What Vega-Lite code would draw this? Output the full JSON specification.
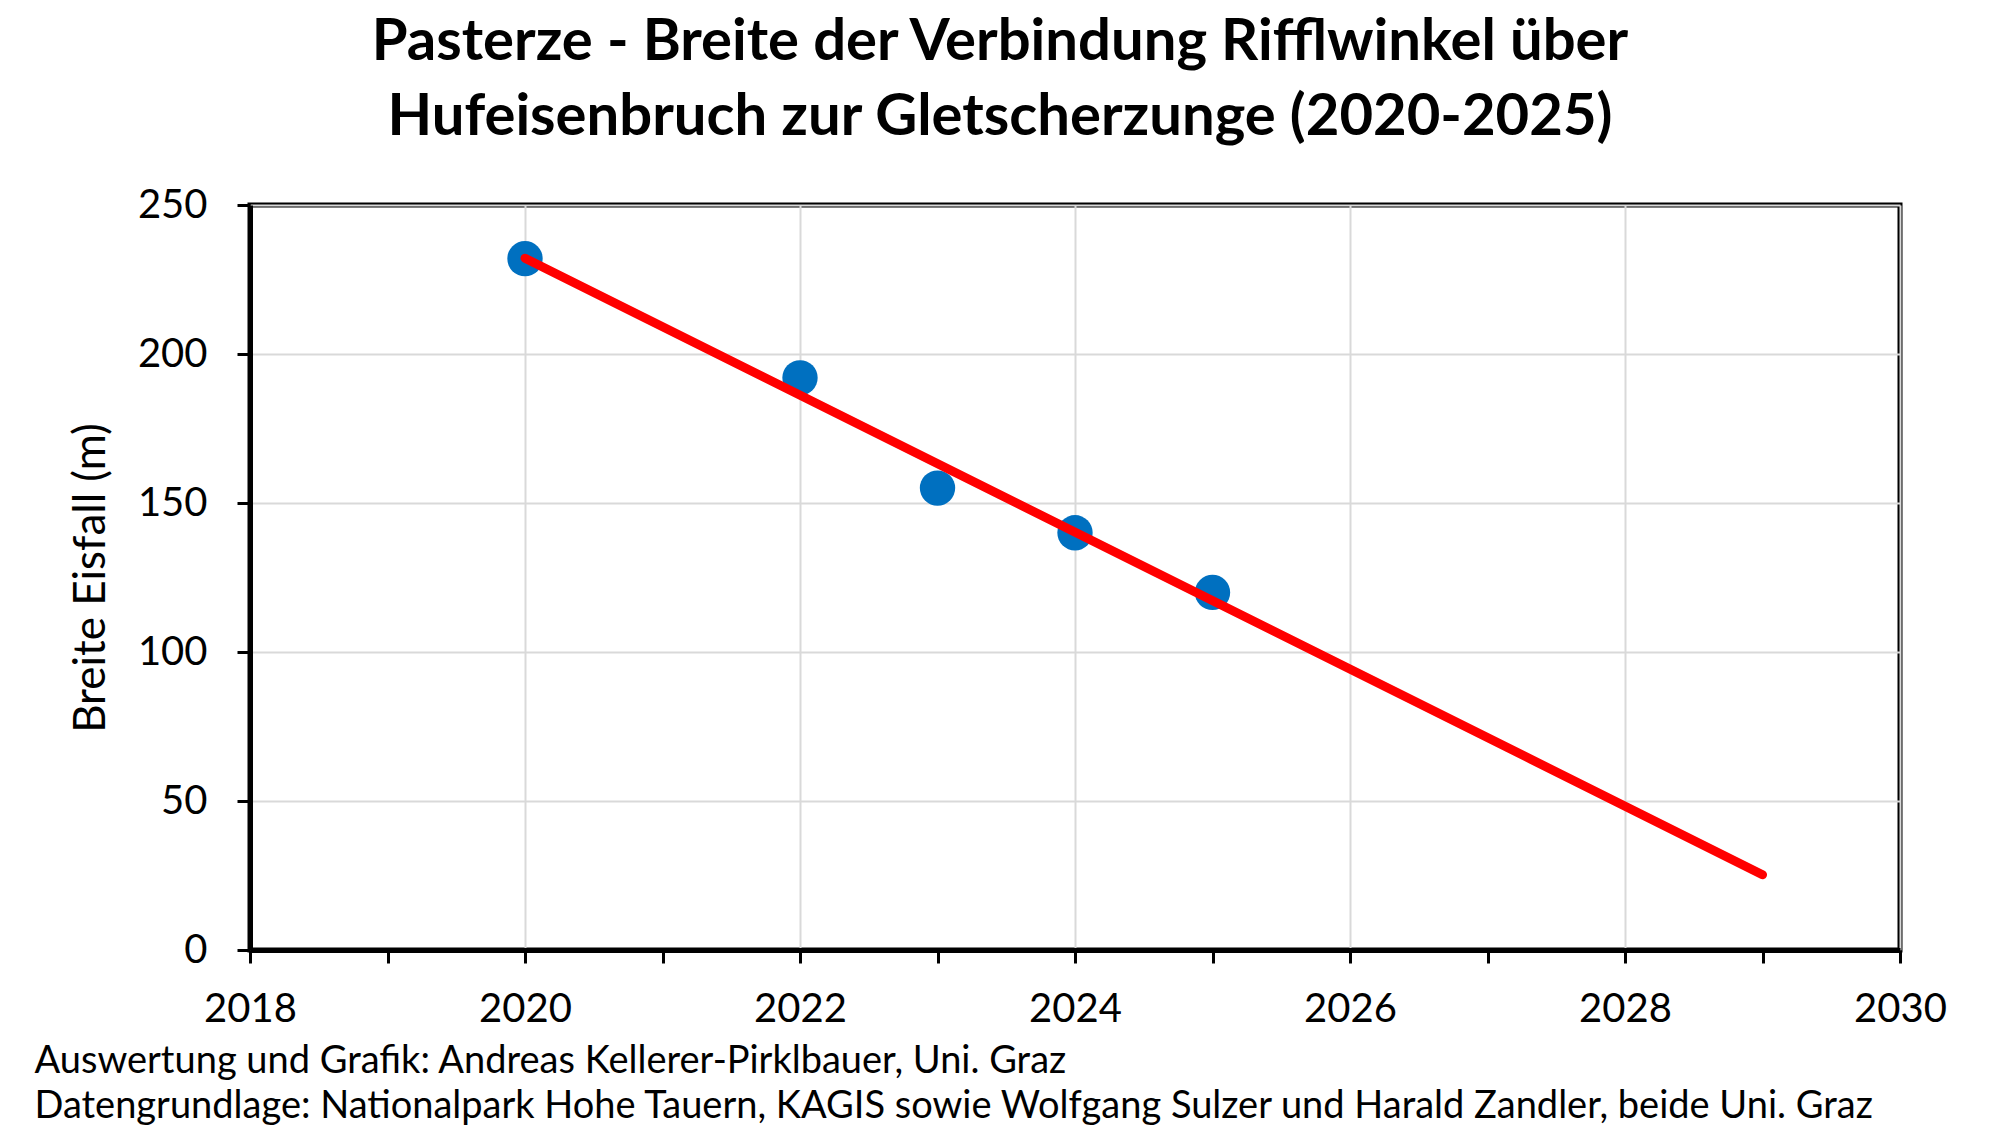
{
  "$schema": "https://vega.github.io/schema/vega-lite/v6.json",
  "autosize": "none",
  "width": 1650,
  "height": 745,
  "padding": {"left": 250, "top": 205, "right": 100, "bottom": 175},
  "background": "white",
  "config": {
    "font": "Lato",
    "view": {"stroke": "black", "strokeWidth": 5}
  },
  "title": {
    "text": ["Pasterze - Breite der Verbindung Rifflwinkel über", "Hufeisenbruch zur Gletscherzunge (2020-2025)"],
    "font": "Lato",
    "fontSize": 58,
    "fontWeight": "bold",
    "color": "black",
    "lineHeight": 75,
    "anchor": "middle",
    "frame": "group",
    "dx": -75,
    "offset": 38
  },
  "data": {
    "values": [
      {"Jahr": 2020, "Breite": 232},
      {"Jahr": 2022, "Breite": 192},
      {"Jahr": 2023, "Breite": 155},
      {"Jahr": 2024, "Breite": 140},
      {"Jahr": 2025, "Breite": 120}
    ]
  },
  "encoding": {
    "x": {
      "field": "Jahr",
      "type": "quantitative",
      "scale": {"domain": [2018, 2030], "nice": false, "zero": false},
      "axis": {
        "values": [2018, 2019, 2020, 2021, 2022, 2023, 2024, 2025, 2026, 2027, 2028, 2029, 2030],
        "format": "d",
        "labelExpr": "datum.value % 2 === 0 ? datum.label : ''",
        "labelFont": "Lato",
        "labelFontSize": 40,
        "labelColor": "black",
        "labelPadding": 26,
        "labelFlush": false,
        "domainColor": "black",
        "domainWidth": 5,
        "tickColor": "black",
        "tickWidth": 3,
        "tickSize": 13,
        "gridColor": "#d9d9d9",
        "gridWidth": 2,
        "gridOpacity": {"condition": {"test": "datum.value % 2 === 1", "value": 0}, "value": 1},
        "title": ["Auswertung und Grafik: Andreas Kellerer-Pirklbauer,  Uni. Graz", "Datengrundlage: Nationalpark Hohe Tauern, KAGIS sowie Wolfgang Sulzer und Harald Zandler, beide Uni. Graz"],
        "titleFont": "Lato",
        "titleFontSize": 38,
        "titleFontWeight": "normal",
        "titleColor": "black",
        "titleAnchor": "start",
        "titleAlign": "left",
        "titleBaseline": "alphabetic",
        "titleLineHeight": 45,
        "titleX": -216,
        "titleY": 122
      }
    },
    "y": {
      "field": "Breite",
      "type": "quantitative",
      "scale": {"domain": [0, 250], "nice": false},
      "axis": {
        "values": [0, 50, 100, 150, 200, 250],
        "labelFont": "Lato",
        "labelFontSize": 40,
        "labelColor": "black",
        "labelPadding": 30,
        "labelFlush": false,
        "domainColor": "black",
        "domainWidth": 5,
        "tickColor": "black",
        "tickWidth": 3,
        "tickSize": 13,
        "gridColor": "#d9d9d9",
        "gridWidth": 2,
        "title": "Breite Eisfall (m)",
        "titleFont": "Lato",
        "titleFontSize": 44,
        "titleFontWeight": "normal",
        "titleColor": "black",
        "titlePadding": 24
      }
    }
  },
  "layer": [
    {
      "mark": {"type": "point", "filled": true, "shape": "circle", "size": 1250, "color": "#0070C0", "opacity": 1}
    },
    {
      "transform": [{"regression": "Breite", "on": "Jahr", "extent": [2020, 2029]}],
      "mark": {"type": "line", "color": "#FF0000", "strokeWidth": 9, "strokeCap": "round"}
    }
  ]
}
